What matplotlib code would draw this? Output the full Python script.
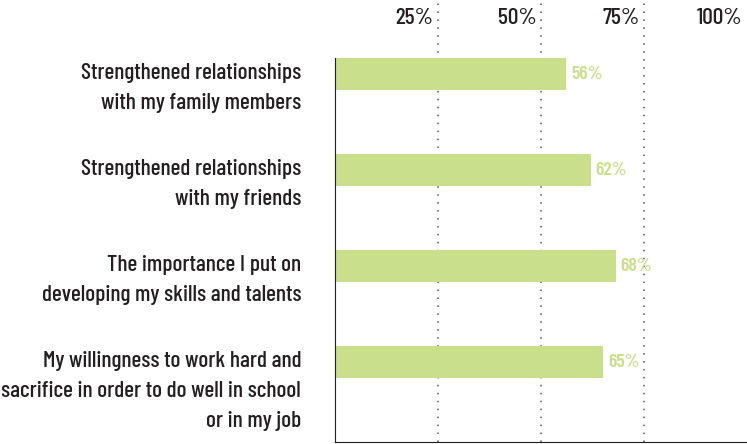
import matplotlib.pyplot as plt

# Datos de la encuesta
categorias = [
    "Strengthened relationships\nwith my family members",
    "Strengthened relationships\nwith my friends",
    "The importance I put on\ndeveloping my skills and talents",
    "My willingness to work hard and\nsacrifice in order to do well in school\nor in my job",
]
valores = [56, 62, 68, 65]
ticks = [25, 50, 75, 100]
tick_labels = ["25%", "50%", "75%", "100%"]

plt.rcParams['font.family'] = ['Barlow Condensed', 'DejaVu Sans']

verde = "#cadf8c"
texto = "#231f20"

fig = plt.figure(figsize=(7.47, 4.44), dpi=100)
ax = fig.add_axes([334.5 / 747, 2.5 / 444, 413.3 / 747, 438.5 / 444])

alto = 1 / 3
pos = list(range(len(valores)))
ax.barh(pos, valores, height=alto, color=verde, zorder=2)

ax.set_xlim(0, 100)
ax.set_ylim(3.828, -0.74)

# lineas punteadas de referencia
for t in ticks:
    ax.axvline(t, color="#555555", lw=1.1, ls=(0, (1, 4.2)), zorder=1)

# etiquetas del eje superior, alineadas a la izquierda de cada linea
for t, lab in zip(ticks, tick_labels):
    ax.annotate(lab, xy=(t, -0.583), xytext=(-3.5, 0), textcoords="offset points",
                ha="right", va="center", fontsize=17, fontweight="medium", color=texto)

# porcentajes al final de cada barra
for p, v in zip(pos, valores):
    ax.annotate(f"{v}%", xy=(v, p), xytext=(3.5, 0), textcoords="offset points",
                ha="left", va="center", fontsize=14, fontweight="semibold", color=verde)

# nombres de las categorias
for p, c in zip(pos, categorias):
    ax.annotate(c, xy=(0, p - alto / 2), xytext=(-24, -3.5), textcoords="offset points",
                ha="right", va="top", fontsize=16.8, fontweight="medium", color=texto,
                linespacing=1.62)

for s in ["top", "right"]:
    ax.spines[s].set_visible(False)
ax.spines["left"].set_bounds(-alto / 2, 3.828)
ax.spines["left"].set_color(texto)
ax.spines["bottom"].set_color(texto)
ax.set_xticks([])
ax.set_yticks([])

fig.savefig("out.png", dpi=100)
